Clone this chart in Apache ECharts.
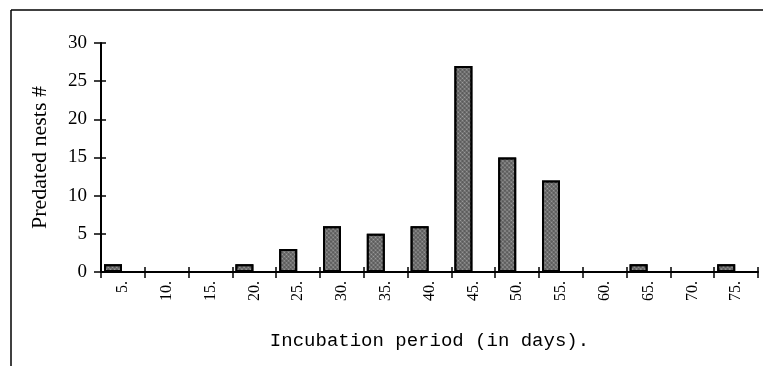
<!DOCTYPE html>
<html>
<head>
<meta charset="utf-8">
<script src="https://cdn.jsdelivr.net/npm/echarts@6/dist/echarts.min.js"></script>
<style>
  html, body { margin: 0; padding: 0; background: #fff; }
  #chart { width: 763px; height: 366px; }
</style>
</head>
<body>
<div id="chart"></div>
<script>
// Incubation period classes (days) and predated nest counts
const categories = ['5.', '10.', '15.', '20.', '25.', '30.', '35.', '40.', '45.', '50.', '55.', '60.', '65.', '70.', '75.'];
const predatedNests = [1, 0, 0, 1, 3, 6, 5, 6, 27, 15, 12, 0, 1, 0, 1];
// empty companion series: keeps each bar on the left side of its class
const spacer = categories.map(() => null);
const yTicks = [0, 5, 10, 15, 20, 25, 30];

const serif = '"Liberation Serif", "DejaVu Serif", serif';

const chart = echarts.init(document.getElementById('chart'), null, { renderer: 'canvas' });

const baseX = {
  type: 'category',
  data: categories,
  boundaryGap: true,
  position: 'bottom'
};
const baseY = {
  type: 'value',
  min: yTicks[0],
  max: yTicks[yTicks.length - 1],
  interval: 5,
  position: 'left'
};

chart.setOption({
  animation: false,
  backgroundColor: '#fff',
  grid: { left: 101, right: 5, top: 43, bottom: 94, containLabel: false },
  xAxis: [
    Object.assign({}, baseX, {
      name: 'Incubation period (in days).',
      nameLocation: 'middle',
      nameGap: 59,
      nameTextStyle: { fontFamily: '"Liberation Mono", monospace', fontSize: 19, color: '#000' },
      axisLine: { show: true, lineStyle: { color: '#000', width: 2 } },
      axisTick: { show: true, inside: false, length: 6, alignWithLabel: false, lineStyle: { color: '#000', width: 1.5 } },
      axisLabel: { rotate: 90, margin: 9, fontFamily: serif, fontSize: 16, color: '#000' },
      splitLine: { show: false }
    }),
    Object.assign({}, baseX, {
      gridIndex: 0,
      axisLine: { show: false },
      axisTick: { show: true, inside: true, length: 5, lineStyle: { color: '#000', width: 1.5 } },
      axisLabel: { show: false },
      splitLine: { show: false }
    })
  ],
  yAxis: [
    Object.assign({}, baseY, {
      name: 'Predated nests #',
      nameLocation: 'middle',
      nameGap: 50,
      nameRotate: 90,
      nameTextStyle: { fontFamily: serif, fontSize: 22, color: '#000' },
      axisLine: { show: true, lineStyle: { color: '#000', width: 2 } },
      axisTick: { show: true, inside: false, length: 7, lineStyle: { color: '#000', width: 1.5 } },
      axisLabel: { margin: 14, fontFamily: serif, fontSize: 19, color: '#000' },
      splitLine: { show: false }
    }),
    Object.assign({}, baseY, {
      axisLine: { show: false },
      axisTick: { show: true, inside: true, length: 5, lineStyle: { color: '#000', width: 1.5 } },
      axisLabel: { show: false },
      splitLine: { show: false }
    })
  ],
  series: [
    {
      type: 'bar',
      data: predatedNests,
      xAxisIndex: 0,
      yAxisIndex: 0,
      barWidth: 18,
      barGap: '10%',
      itemStyle: {
        color: '#555555',
        borderColor: '#000',
        borderWidth: 2,
        decal: {
          symbol: 'circle',
          symbolSize: 0.7,
          color: 'rgba(255,255,255,0.45)',
          dashArrayX: [3, 0],
          dashArrayY: [3, 0],
          rotation: 0.785
        }
      }
    },
    {
      type: 'bar',
      data: spacer,
      xAxisIndex: 0,
      yAxisIndex: 0,
      barWidth: 18,
      silent: true
    }
  ],
  graphic: [
    { type: 'line', shape: { x1: 11, y1: 10, x2: 763, y2: 10 }, style: { stroke: '#000', lineWidth: 1.5 } },
    { type: 'line', shape: { x1: 11, y1: 10, x2: 11, y2: 366 }, style: { stroke: '#000', lineWidth: 1.5 } }
  ]
});
</script>
</body>
</html>
